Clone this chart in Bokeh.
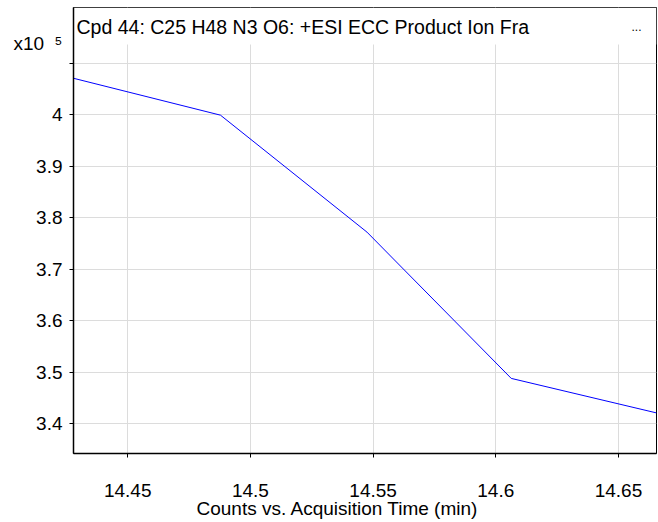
from bokeh.plotting import figure
from bokeh.models import (Range1d, FixedTicker, CustomJSTickFormatter, Label,
                          BoxAnnotation, LinearAxis, Title)
from bokeh.embed import file_html
from bokeh.resources import INLINE

# ---- data ----
acq_time_min = [14.4280, 14.4878, 14.5475, 14.6063, 14.6655]
counts = [407050, 399900, 377200, 348800, 342100]
scale_exp = 5
x_ticks = [14.45, 14.50, 14.55, 14.60, 14.65]
y_ticks = [3.4, 3.5, 3.6, 3.7, 3.8, 3.9, 4.0, 4.1]

title_text = "Cpd 44: C25 H48 N3 O6: +ESI ECC Product Ion Fra"
x_label = "Counts vs. Acquisition Time (min)"
scale_label = "x10\u00a0\u00a0\u2075"

# ---- layout ----
X_RANGE = (14.4279, 14.6655)
Y_RANGE = (3.3422, 4.208)
TITLE_BAND_BOTTOM = 4.136
SCALE_LABEL_POS = 4.138
FONT = "Liberation Sans"

scaled = [c / 10 ** scale_exp for c in counts]

p = figure(width=658, height=522, output_backend="svg", toolbar_location=None,
           x_range=Range1d(*X_RANGE), y_range=Range1d(*Y_RANGE),
           min_border_left=73, min_border_right=2, min_border_top=7,
           min_border_bottom=69)
p.background_fill_color = "white"
p.border_fill_color = "white"
p.outline_line_color = "black"
p.outline_line_width = 1

# grid
for g in (p.xgrid, p.ygrid):
    g.grid_line_color = "#dcdcdc"
    g.grid_line_width = 1
p.xgrid.ticker = FixedTicker(ticks=x_ticks)
p.ygrid.ticker = FixedTicker(ticks=y_ticks)

# white band for the title region (no grid lines there)
band = BoxAnnotation(bottom=TITLE_BAND_BOTTOM, fill_color="white", fill_alpha=1.0,
                     line_color=None, level="underlay")
p.add_layout(band)

p.line(acq_time_min, scaled, line_color="#0000ff", line_width=1)

# axes
xa = p.xaxis[0]
xa.ticker = FixedTicker(ticks=x_ticks)
xa.formatter = CustomJSTickFormatter(code="return (Math.round(tick*100)/100).toString();")
ya = p.yaxis[0]
ya.ticker = FixedTicker(ticks=y_ticks)
ya.formatter = CustomJSTickFormatter(
    code="return tick > 4.05 ? '' : (Math.round(tick*10)/10).toString();")
for ax in (xa, ya):
    ax.axis_line_color = "black"
    ax.axis_line_width = 1.5
    ax.major_tick_line_color = "black"
    ax.major_tick_in = 0
    ax.major_tick_out = 4
    ax.minor_tick_line_color = None
    ax.major_label_text_font = FONT
    ax.major_label_text_font_size = "19px"
    ax.major_label_text_color = "black"
xa.major_label_standoff = 26
ya.major_label_standoff = 7

# scale factor label ("x10^5") as a secondary left axis without line/ticks
sa = LinearAxis(ticker=FixedTicker(ticks=[SCALE_LABEL_POS]),
                formatter=CustomJSTickFormatter(code="return '%s';" % scale_label),
                axis_line_color=None, major_tick_line_color=None,
                minor_tick_line_color=None, major_tick_in=0, major_tick_out=0,
                major_label_standoff=-29, major_label_text_font=FONT,
                major_label_text_font_size="19px", major_label_text_color="black")
p.add_layout(sa, "left")

# x axis label as a title below
p.add_layout(Title(text=x_label, align="left", offset=123, standoff=-8,
                   text_font=FONT, text_font_size="19px", text_font_style="normal",
                   text_color="black"), "below")

# chart title inside the frame
p.add_layout(Label(x=3, y=427, x_units="screen", y_units="screen", text=title_text,
                   text_font=FONT, text_font_size="19.5px", text_color="black",
                   text_baseline="alphabetic"))
p.add_layout(Label(x=558, y=427, x_units="screen", y_units="screen", text="...",
                   text_font=FONT, text_font_size="12px", text_color="black",
                   text_baseline="alphabetic"))

open("out.html", "w").write(file_html(p, INLINE))
